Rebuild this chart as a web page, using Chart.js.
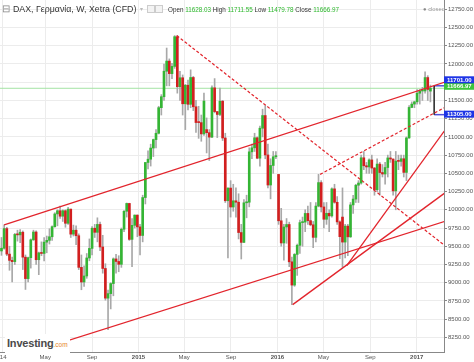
<!DOCTYPE html>
<html><head><meta charset="utf-8">
<script src="https://cdn.jsdelivr.net/npm/chart.js@4.4.0/dist/chart.umd.min.js"></script>
<style>
html,body{margin:0;padding:0;background:#fff;}
#wrap{position:relative;width:474px;height:362px;overflow:hidden;font-family:"Liberation Sans",Arial,sans-serif;}
canvas{position:absolute;left:0;top:0;}
.t{position:absolute;white-space:nowrap;}
.ic{position:absolute;width:6px;height:6px;border:1px solid #ccc;background:#f3f3f3;top:5px;}
</style></head><body>
<div id="wrap">
<canvas id="c" width="474" height="362"></canvas>
<div class="t" style="left:2px;top:3px;font-size:10px;line-height:11px;color:#888">⊟</div>
<div class="t" style="left:13px;top:4px;font-size:8.8px;line-height:10px;color:#333">DAX, Γερμανία, W, Xetra (CFD)</div>
<div class="t" style="left:140px;top:5px;font-size:6px;line-height:8px;color:#bbb">▾</div>
<div class="ic" style="left:147px"></div>
<div class="ic" style="left:155px"></div>
<div class="t" style="left:168px;top:6px;font-size:6.3px;line-height:7px;color:#333">Open <span style="color:#2eb82e">11628.03</span> High <span style="color:#2eb82e">11711.55</span> Low <span style="color:#2eb82e">11479.78</span> Close <span style="color:#2eb82e">11666.97</span></div>
<div class="t" style="left:423px;top:6px;font-size:5.8px;line-height:7px;color:#999"><span style="color:#888">●</span> closed</div>
<div class="t" style="left:5px;top:334px;background:#fff;padding:0 2px 1px 2px;line-height:15px"><span style="font-size:11px;font-weight:bold;color:#4a4a4a;letter-spacing:-0.2px">Investing</span><span style="font-size:6.5px;color:#e6862c">.com</span></div>
</div>
<script>
// Weekly DAX candles, week 0 = week starting 2014-01-06
const firstWeek = '2014-01-06';
const opens = [9435,9473,9742,9392,9306,9289,9662,9656,9692,9350,9056,9343,9588,9695,9315,9409,9401,9556,9581,9630,9768,9943,9987,9912,9987,9815,10009,9666,9720,9644,9210,9009,9092,9339,9470,9747,9691,9799,9490,9195,8788,8850,8988,9326,9291,9252,9733,9980,10087,9594,9787,9927,
9765,9648,10168,10649,10694,10847,10963,11050,11401,11551,11901,12040,11868,11967,12375,11689,11811,11454,11709,11447,11815,11413,11197,11196,11041,11100,11058,10997,11673,11347,11308,11490,10985,10124,10298,10038,10123,10104,9688,9553,10096,10104,10795,10850,10988,10708,11119,11293,10752,10340,10608,10727,
10485,9849,9545,9764,9798,9286,8967,9388,9513,9824,9831,9950,9851,9794,9622,10051,10373,10039,9870,9952,9916,10287,10103,9834,9900,9557,9776,9629,10067,10147,10337,10367,10713,10604,10588,10684,10573,10276,10627,10511,10491,10580,10711,10696,10259,10668,10664,10700,10513,10986,11404,11450,
11481,11599,11630,11630,11814,11628.03];
const highs = [9620,9794,9760,9500,9350,9676,9720,9730,9710,9380,9350,9600,9720,9710,9420,9560,9620,9640,9740,9780,9960,10000,10050,10000,10000,10033,10010,9790,9780,9670,9380,9230,9400,9600,9770,9800,9890,9830,9650,9260,8900,9000,9340,9390,9370,9750,9990,10093,10090,9880,9930,9930,
9800,10200,10650,10810,10900,10970,11100,11420,11580,12000,12219,12070,12010,12390,12390,11900,11850,11720,11780,11920,11830,11500,11420,11300,11600,11260,11100,11700,11800,11350,11670,11500,11050,10300,10400,10350,10300,10220,9800,10140,10200,10850,10900,11050,11000,11150,11380,11430,10900,10700,10800,10800,
10485,10020,9800,9880,9830,9350,9400,9530,9860,9900,10000,10050,10100,9840,10100,10486,10400,10100,10100,10000,10300,10350,10180,9850,10300,9800,9800,10100,10200,10350,10400,10750,10800,10650,10700,10750,10580,10700,10650,10620,10650,10750,10800,10700,10800,10750,10750,10750,11000,11430,11480,11490,
11650,11650,11680,11893,11840,11711.55];
const lows = [9375,9460,9370,9170,9009,9250,9570,9550,9180,8907,9010,9200,9580,9250,9110,9370,9300,9410,9530,9580,9760,9780,9880,9840,9760,9800,9620,9640,9520,9180,8903,8950,9060,9300,9380,9620,9560,9440,9130,8760,8355,8640,8820,9130,9150,9210,9700,9900,9580,9220,9750,9630,
9382,9560,10080,10560,10600,10730,10850,11040,11300,11500,11700,11700,11800,11940,11600,11500,11300,11100,11370,11400,11360,11060,10980,10940,11020,10780,10676,10990,11330,10990,11290,10950,10100,9338,9900,9980,9900,9600,9325,9550,9890,10040,10700,10800,10700,10600,11000,10700,10300,10150,10500,10700,
9800,9500,9310,9540,9220,8699,8950,9100,9400,9500,9700,9800,9780,9480,9560,10040,9970,9750,9800,9700,9900,10090,9800,9330,9214,9339,9370,9620,9950,10100,10100,10350,10550,10500,10500,10500,10200,10250,10200,10450,10350,10450,10650,10200,10000,10550,10600,10450,10400,10980,11400,11400,
11450,11450,11500,11600,11500,11479.78];
const closes = [9473,9742,9392,9306,9289,9662,9656,9692,9350,9056,9343,9588,9695,9315,9409,9401,9556,9581,9630,9768,9943,9987,9912,9987,9815,10009,9666,9720,9644,9210,9009,9092,9339,9470,9747,9691,9799,9490,9195,8788,8850,8988,9326,9291,9252,9733,9980,10087,9594,9787,9927,9765,
9648,10168,10649,10694,10847,10963,11050,11401,11551,11901,12040,11868,11967,12375,11689,11811,11454,11709,11447,11815,11413,11197,11196,11041,11492,11058,10997,11673,11347,11308,11490,10985,10124,10298,10038,10123,10104,9688,9553,10096,10104,10795,10850,10988,10708,11119,11293,10752,10340,10608,10727,10743,
9849,9545,9764,9798,9286,8967,9388,9513,9824,9831,9950,9851,9794,9622,10051,10373,10039,9870,9952,9916,10287,10103,9834,9631,9557,9776,9629,10067,10147,10337,10367,10713,10604,10588,10684,10573,10276,10627,10511,10491,10580,10711,10696,10259,10668,10664,10700,10513,10986,11404,11450,11481,
11599,11630,11630,11814,11651,11666.97];

// Axis ticks
const yTickValues = [8250,8500,8750,9000,9250,9500,9750,10000,10250,10500,10750,11000,11250,11500,11750,12000,12250,12500,12750];
const xTickDates = ['2014-01-09','2014-05-01','2014-09-01','2015-01-01','2015-05-01','2015-09-01','2016-01-01','2016-05-01','2016-09-01','2017-01-01'];
const xTickLabels = ["'14",'May','Sep','2015','May','Sep','2016','May','Sep','2017'];

// Drawn trend lines: [week index, price]
const trendUpper = [[1, 9794], [166.2, 11750]];
const trendLower = [[11, 8045], [166.2, 9839]];
const trendFromFebLow = [[109.3, 8699], [166.2, 10225]];
const trendFromJunLow = [[129.6, 9235], [166.2, 11080]];
const dashedFromPeak = [[65.8, 12390], [166.2, 9515]];
const dashedFromAprHigh = [[119.6, 10486], [166.2, 11400]];
const lastPrice = 11666.97;
const bracketWeek = 162.4, bracketHigh = 11701, bracketLow = 11305;

const GREEN = '#34b534', RED = '#d21f1f', LINE = '#e2242c';
const weekOf = d => (Date.parse(d) - Date.parse(firstWeek)) / 6048e5;

const wickData = opens.map((o, i) => ({x: i, y: [lows[i], highs[i]]}));
const bodyData = opens.map((o, i) => ({x: i, y: [Math.min(o, closes[i]), Math.max(o, closes[i])]}));
const bodyColors = opens.map((o, i) => closes[i] >= o ? GREEN : RED);

const seg = (pts, color, dash, width, order) => ({
  type: 'line', data: pts.map(p => ({x: p[0], y: p[1]})), borderColor: color,
  borderWidth: width, borderDash: dash, pointRadius: 0, fill: false, tension: 0, order
});

const labelPlugin = {
  id: 'priceLabels',
  afterDraw(chart) {
    const {ctx, chartArea, scales: {y}} = chart;
    const boxes = [
      {v: lastPrice, dy: -2, bg: '#3cc43c', text: lastPrice.toFixed(2)},
      {v: bracketHigh, dy: -6, bg: '#1e35e6', text: bracketHigh.toFixed(2)},
      {v: bracketLow, dy: -0.5, bg: '#1e35e6', text: bracketLow.toFixed(2)}
    ];
    ctx.save();
    ctx.font = 'bold 6px "Liberation Sans", Arial, sans-serif';
    ctx.textBaseline = 'middle';
    boxes.forEach(b => {
      const cy = y.getPixelForValue(b.v) + b.dy;
      ctx.fillStyle = b.bg;
      ctx.fillRect(chartArea.right, cy - 3.5, 30, 7);
      ctx.fillStyle = '#fff';
      ctx.fillText(b.text, chartArea.right + 3, cy + 0.3);
    });
    ctx.restore();
  }
};

const FONT = '"Liberation Sans", Arial, sans-serif';
new Chart(document.getElementById('c'), {
  type: 'bar',
  data: {
    datasets: [
      seg(trendUpper, LINE, [], 1.3, 0),
      seg(trendLower, LINE, [], 1.3, 0),
      seg(trendFromFebLow, LINE, [], 1.3, 0),
      seg(trendFromJunLow, LINE, [], 1.3, 0),
      seg(dashedFromPeak, LINE, [3, 2], 1.2, 0),
      seg(dashedFromAprHigh, LINE, [3, 2], 1.2, 0),
      seg([[bracketWeek, bracketHigh], [bracketWeek, bracketLow]], '#222', [], 1.5, 0),
      seg([[bracketWeek, bracketHigh], [166.2, bracketHigh]], '#5050dd', [], 1.5, 0),
      seg([[bracketWeek, bracketLow], [166.2, bracketLow]], '#5050dd', [], 1.5, 0),
      {type: 'bar', data: bodyData, backgroundColor: bodyColors, barThickness: 2, grouped: false, minBarLength: 1, borderWidth: 0, order: 2},
      {type: 'bar', data: wickData, backgroundColor: '#a8a8a8', barThickness: 1, grouped: false, borderWidth: 0, order: 3},
      seg([[-1, lastPrice], [167, lastPrice]], '#a3e3a3', [], 1, 4)
    ]
  },
  options: {
    responsive: false, animation: false, events: [],
    layout: {padding: 0},
    plugins: {legend: {display: false}, tooltip: {enabled: false}},
    scales: {
      x: {
        type: 'linear', min: -0.56, max: 166.1, offset: false,
        afterBuildTicks: s => { s.ticks = xTickDates.map(d => ({value: weekOf(d)})); },
        afterFit: s => { s.height = 10; s.paddingLeft = 0; s.paddingRight = 0; },
        ticks: {
          autoSkip: false, maxRotation: 0, padding: 2, color: '#555',
          callback: (v, i) => xTickLabels[i],
          font: ctx => ({family: FONT, size: 6, weight: /^\d{4}$/.test(xTickLabels[ctx.index] || '') ? 'bold' : 'normal'})
        },
        grid: {color: '#ececec', drawTicks: false, offset: false},
        border: {display: true, color: '#888'}
      },
      y: {
        position: 'right', min: 8049, max: 12878,
        afterBuildTicks: s => { s.ticks = yTickValues.map(v => ({value: v})); },
        afterFit: s => { s.width = 30; s.paddingTop = 0; s.paddingBottom = 0; },
        ticks: {callback: v => v.toFixed(2), color: '#555', padding: 1, font: {family: FONT, size: 6}},
        grid: {color: '#ececec', tickLength: 3, tickColor: '#888'},
        border: {display: true, color: '#888'}
      }
    }
  },
  plugins: [labelPlugin]
});
</script>
</body></html>
